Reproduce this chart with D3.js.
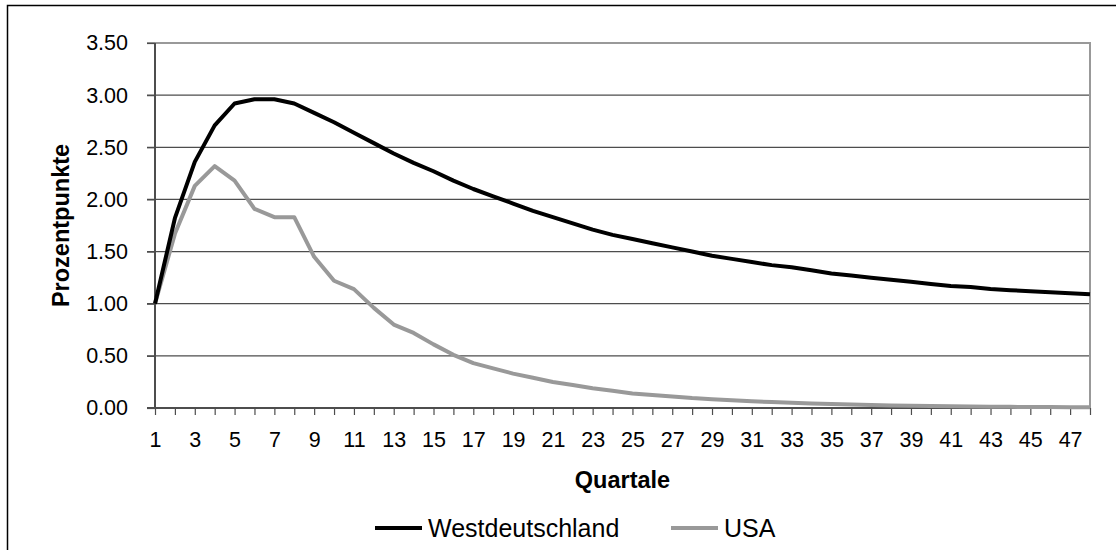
<!DOCTYPE html>
<html><head><meta charset="utf-8">
<script src="https://cdn.jsdelivr.net/npm/d3@7"></script>
<style>body{margin:0;background:#fff}svg{display:block}text{font-family:"Liberation Sans",Arial,sans-serif;fill:#000}</style>
</head><body>
<script>
const quarters = d3.range(1, 49);
const west = [1.00,1.82,2.36,2.71,2.92,2.96,2.96,2.92,2.83,2.74,2.64,2.54,2.44,2.35,2.27,2.18,2.10,2.03,1.96,1.89,1.83,1.77,1.71,1.66,1.62,1.58,1.54,1.50,1.46,1.43,1.40,1.37,1.35,1.32,1.29,1.27,1.25,1.23,1.21,1.19,1.17,1.16,1.14,1.13,1.12,1.11,1.10,1.09];
const usa = [1.00,1.67,2.13,2.32,2.18,1.91,1.83,1.83,1.45,1.22,1.14,0.96,0.80,0.72,0.61,0.51,0.43,0.38,0.33,0.29,0.25,0.22,0.19,0.165,0.14,0.125,0.11,0.095,0.085,0.075,0.065,0.057,0.05,0.044,0.038,0.033,0.029,0.025,0.022,0.019,0.017,0.015,0.013,0.011,0.010,0.009,0.008,0.007];
const yTicks = [0,0.5,1,1.5,2,2.5,3,3.5];
const xLabels = d3.range(1, 48, 2);
const seriesNames = ["Westdeutschland","USA"];
const colors = ["#000000","#999999"];

const W = 1116, H = 550;
const FONT = "Liberation Sans, Arial, sans-serif";
const svg = d3.select("body").append("svg").attr("width", W).attr("height", H);
svg.append("rect").attr("x",7.5).attr("y",5.5).attr("width",1130).attr("height",570)
  .attr("fill","#fff").attr("stroke","#000").attr("stroke-width",1.5);

const x = d3.scaleLinear().domain([1,48]).range([155,1090]);
const y = d3.scaleLinear().domain([0,3.5]).range([408,43]);

// gridlines
svg.append("g").selectAll("line").data(yTicks.filter(d=>d>0 && d<3.5)).join("line")
  .attr("x1",147).attr("x2",1090).attr("y1",d=>y(d)).attr("y2",d=>y(d))
  .attr("stroke","#4d4d4d").attr("stroke-width",1.2);
svg.append("line").attr("x1",147).attr("x2",155).attr("y1",y(3.5)).attr("y2",y(3.5)).attr("stroke","#4d4d4d").attr("stroke-width",1.2);
// plot frame top/right
svg.append("path").attr("d",`M155,${y(3.5)}H1090V408`).attr("fill","none").attr("stroke","#999").attr("stroke-width",2);

// y axis
const yAxis = svg.append("g").attr("transform","translate(155,0)")
  .call(d3.axisLeft(y).tickValues(yTicks).tickFormat(d3.format(".2f")).tickSize(8).tickPadding(19));
yAxis.select(".domain").attr("stroke","#4d4d4d").attr("stroke-width",2).attr("d",`M0,${y(3.5)}V408`);
yAxis.selectAll(".tick line").attr("stroke","#4d4d4d").attr("stroke-width",1.2);
yAxis.selectAll("text").attr("font-size",21.5).attr("font-family",FONT).attr("fill","#000");

// x axis
const xAxis = svg.append("g").attr("transform","translate(0,408)")
  .call(d3.axisBottom(x).tickValues(quarters).tickSize(7).tickPadding(17).tickFormat(d => xLabels.includes(d) ? d : ""));
xAxis.select(".domain").attr("stroke","#4d4d4d").attr("stroke-width",2).attr("d","M147,0H1090");
xAxis.selectAll(".tick line").attr("stroke","#4d4d4d").attr("stroke-width",1.2);
xAxis.selectAll("text").attr("font-size",21.5).attr("font-family",FONT).attr("fill","#000");

// lines
const line = d3.line().x((d,i)=>x(quarters[i])).y(d=>y(d));
[[usa,1],[west,0]].forEach(([s, idx]) => {
  svg.append("path").datum(s).attr("d", line).attr("fill","none")
    .attr("stroke", colors[idx]).attr("stroke-width", 4).attr("stroke-linejoin","round");
});

// axis titles
svg.append("text").attr("x",622.5).attr("y",488).attr("text-anchor","middle")
  .attr("font-size",23.5).attr("font-weight","bold").text("Quartale");
svg.append("text").attr("transform","translate(69,225.5) rotate(-90)").attr("text-anchor","middle")
  .attr("font-size",23.5).attr("font-weight","bold").text("Prozentpunkte");

// legend
const legX = [375, 671];
seriesNames.forEach((n,i) => {
  svg.append("line").attr("x1",legX[i]).attr("x2",legX[i]+47).attr("y1",528).attr("y2",528)
    .attr("stroke",colors[i]).attr("stroke-width",4);
  svg.append("text").attr("x",legX[i]+53).attr("y",537).attr("font-size",25).text(n);
});
</script>
</body></html>
